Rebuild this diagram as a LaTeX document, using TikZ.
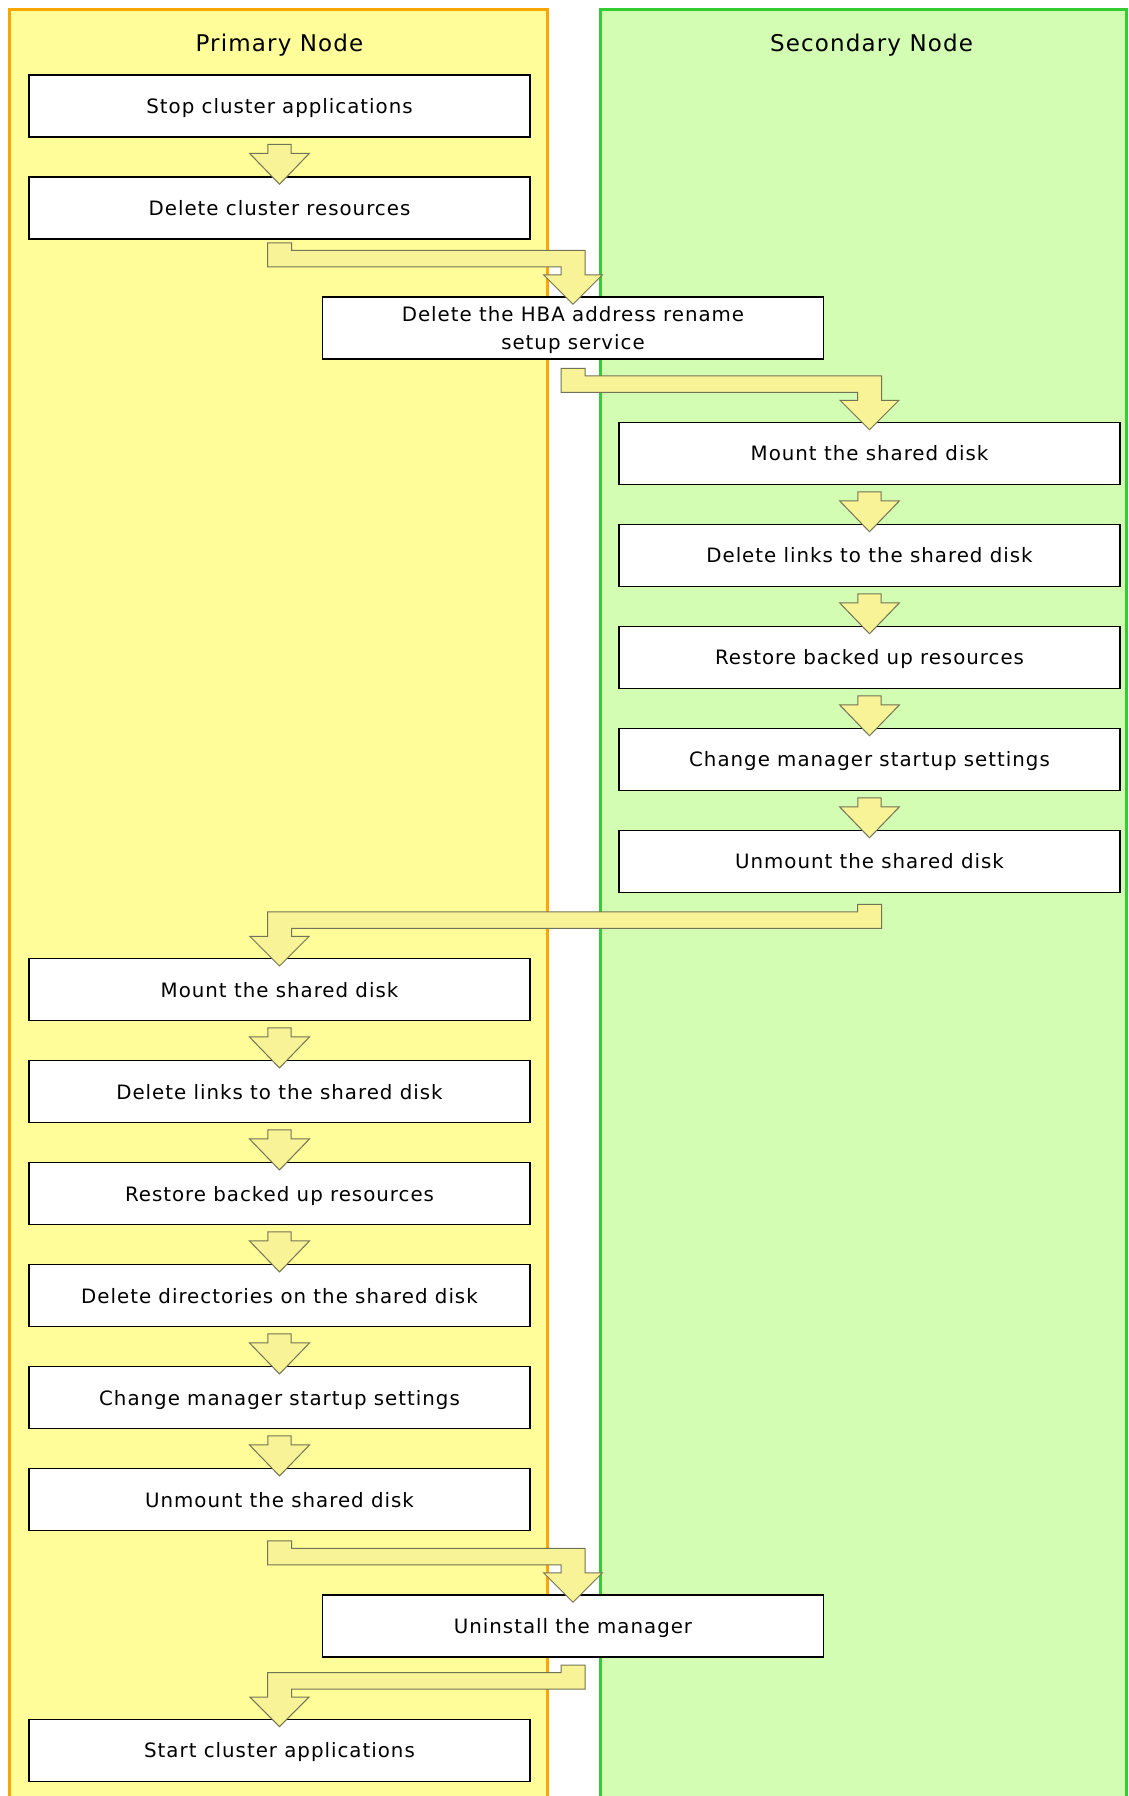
\documentclass[tikz,border=0pt]{standalone}
\usepackage{fontspec}
\setmainfont{DejaVu Sans}[LetterSpace=5]
\usetikzlibrary{calc}
\definecolor{primfill}{RGB}{255,253,153}
\definecolor{primline}{RGB}{255,165,0}
\definecolor{secfill}{RGB}{210,253,178}
\definecolor{secline}{RGB}{51,204,51}
\definecolor{arrowfill}{RGB}{248,243,150}
\definecolor{arrowline}{RGB}{115,115,85}
% straight block arrow between two stacked boxes
\newcommand{\flowdown}[2]{%
  \draw[flowarrow] let \p1=(#1.south), \p2=(#2.north) in
    (\x1-11.7pt,\y1-6.5pt) -- (\x1+11.7pt,\y1-6.5pt) -- (\x1+11.7pt,\y2+23pt)
    -- (\x1+30pt,\y2+23pt) -- (\x1,\y2-8pt) -- (\x1-30pt,\y2+23pt)
    -- (\x1-11.7pt,\y2+23pt) -- cycle;}
% bent block arrow from one column to another
\newcommand{\flowbend}[2]{%
  \draw[flowarrow] let \p1=(#1.south), \p2=(#2.north),
      \n1={sign(\x2-\x1)*12}, \n2={sign(\x2-\x1)*29.5} in
    (\x1-\n1,\y2+53.5pt) -- (\x1+\n1,\y2+53.5pt) -- (\x1+\n1,\y2+46pt)
    -- (\x2+\n1,\y2+46pt) -- (\x2+\n1,\y2+21.5pt) -- (\x2+\n2,\y2+21.5pt)
    -- (\x2,\y2-8pt) -- (\x2-\n2,\y2+21.5pt) -- (\x2-\n1,\y2+21.5pt)
    -- (\x2-\n1,\y2+29.5pt) -- (\x1-\n1,\y2+29.5pt) -- cycle;}

\begin{document}
\begin{tikzpicture}[x=1pt,y=1pt,
    taskbox/.style={draw, line width=1.5pt, fill=white, minimum width=501pt,
      minimum height=62pt, inner sep=0pt, align=center,
      text height=17pt, text depth=2.2pt,
      font=\fontsize{19.8}{28}\selectfont},
    lanetitle/.style={font=\fontsize{23}{28}\selectfont},
    flowarrow/.style={draw=arrowline, fill=arrowfill, line width=1pt}]
        \useasboundingbox (0,0) rectangle (1128,-1796);
        \fill[white] (0,0) rectangle (1128,-1796);
        \clip (0,0) rectangle (1128,-1796);

        % lanes
        \draw[line width=3pt, draw=primline, fill=primfill] (9,-9) rectangle (547,-1810);
        \draw[line width=3pt, draw=secline, fill=secfill] (600,-9) rectangle (1126.5,-1810);
        \draw (279.5,-45) node[lanetitle] (primary) {Primary Node};
        \draw (871.5,-45) node[lanetitle] (secondary) {Secondary Node};

        % primary node, first part
        \draw (279.5,-106) node[taskbox] (stopapps) {Stop cluster applications};
        \draw (279.5,-208) node[taskbox] (delres) {Delete cluster resources};
        \draw (573,-328) node[taskbox, text height=43pt, text depth=0pt] (delhba) {Delete the HBA address rename\\setup service};

        % secondary node
        \draw (869.5,-453.5) node[taskbox] (smount) {Mount the shared disk};
        \draw (869.5,-555.5) node[taskbox] (slinks) {Delete links to the shared disk};
        \draw (869.5,-657.5) node[taskbox] (srestore) {Restore backed up resources};
        \draw (869.5,-759.5) node[taskbox] (smanager) {Change manager startup settings};
        \draw (869.5,-861.5) node[taskbox] (sunmount) {Unmount the shared disk};

        % primary node, second part
        \draw (279.5,-989.7) node[taskbox] (pmount) {Mount the shared disk};
        \draw (279.5,-1091.7) node[taskbox] (plinks) {Delete links to the shared disk};
        \draw (279.5,-1193.7) node[taskbox] (prestore) {Restore backed up resources};
        \draw (279.5,-1295.7) node[taskbox] (pdirs) {Delete directories on the shared disk};
        \draw (279.5,-1397.7) node[taskbox] (pmanager) {Change manager startup settings};
        \draw (279.5,-1499.7) node[taskbox] (punmount) {Unmount the shared disk};
        \draw (573,-1626) node[taskbox] (uninstall) {Uninstall the manager};
        \draw (279.5,-1750.3) node[taskbox] (startapps) {Start cluster applications};

        % flow
        \flowdown{stopapps}{delres}
        \flowbend{delres}{delhba}
        \flowbend{delhba}{smount}
        \flowdown{smount}{slinks}
        \flowdown{slinks}{srestore}
        \flowdown{srestore}{smanager}
        \flowdown{smanager}{sunmount}
        \flowbend{sunmount}{pmount}
        \flowdown{pmount}{plinks}
        \flowdown{plinks}{prestore}
        \flowdown{prestore}{pdirs}
        \flowdown{pdirs}{pmanager}
        \flowdown{pmanager}{punmount}
        \flowbend{punmount}{uninstall}
        \flowbend{uninstall}{startapps}
\end{tikzpicture}
\end{document}
